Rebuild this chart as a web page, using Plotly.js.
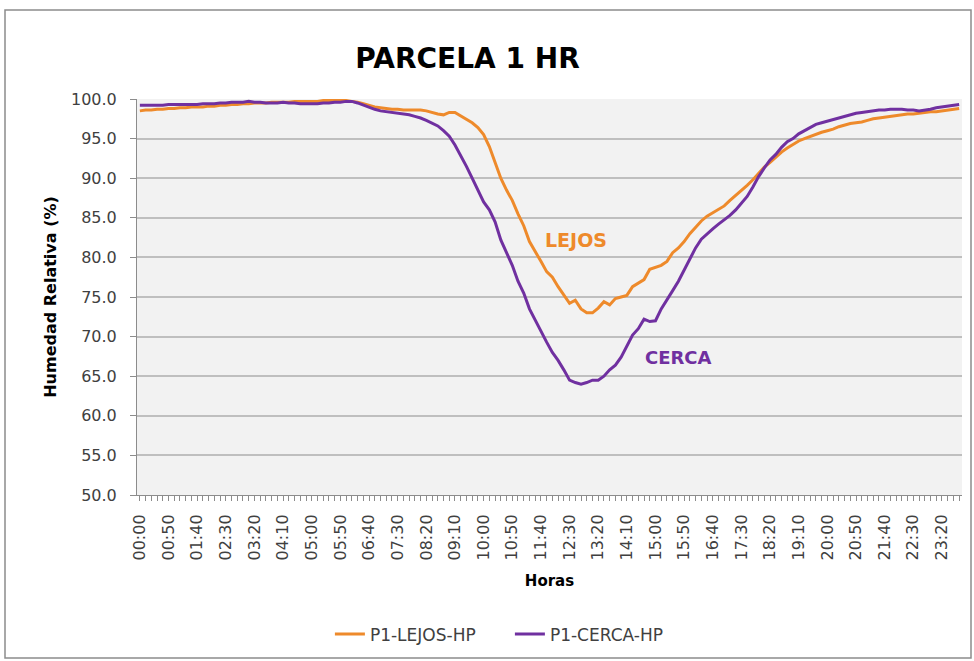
<!DOCTYPE html>
<html>
<head>
<meta charset="utf-8">
<script src="https://cdn.plot.ly/plotly-3.0.1.min.js"></script>
<style>
html,body{margin:0;padding:0;background:#fff;}
#chart{width:974px;height:661px;}
</style>
</head>
<body>
<div id="chart"></div>
<script>
// 10-minute time categories 00:00 .. 23:50
const horas = [];
for (let h = 0; h < 24; h++) {
  for (let m = 0; m < 60; m += 10) {
    horas.push(String(h).padStart(2, '0') + ':' + String(m).padStart(2, '0'));
  }
}

const lejos = [
  98.5, 98.6, 98.6, 98.7, 98.7, 98.8, 98.8, 98.9, 98.9, 99.0,
  99.0, 99.0, 99.1, 99.1, 99.2, 99.2, 99.3, 99.3, 99.4, 99.4,
  99.5, 99.5, 99.5, 99.6, 99.6, 99.6, 99.6, 99.7, 99.7, 99.7,
  99.7, 99.7, 99.8, 99.8, 99.8, 99.8, 99.8, 99.7, 99.6, 99.4,
  99.2, 99.0, 98.9, 98.8, 98.7, 98.7, 98.6, 98.6, 98.6, 98.6,
  98.5, 98.3, 98.1, 98.0, 98.3, 98.3, 97.9, 97.5, 97.0, 96.4,
  95.5, 94.0, 92.0, 90.0, 88.5, 87.2, 85.5, 84.0, 82.0, 80.8,
  79.5, 78.2, 77.5, 76.3, 75.2, 74.2, 74.6, 73.5, 73.0, 73.0,
  73.6, 74.4, 74.0, 74.8, 75.0, 75.2, 76.3, 76.8, 77.2, 78.5,
  78.8, 79.0, 79.5, 80.6, 81.2, 82.0, 83.0, 83.8, 84.6, 85.2,
  85.6, 86.0, 86.5, 87.2, 87.8, 88.4, 89.1, 89.8, 90.6, 91.4,
  92.0, 92.7, 93.3, 93.8, 94.3, 94.7, 95.0, 95.3, 95.6, 95.8,
  96.0, 96.2, 96.5, 96.7, 96.9, 97.0, 97.1, 97.3, 97.5, 97.6,
  97.7, 97.8, 97.9, 98.0, 98.1, 98.1, 98.2, 98.3, 98.4, 98.4,
  98.5, 98.6, 98.7, 98.8
];

const cerca = [
  99.2, 99.2, 99.2, 99.2, 99.2, 99.3, 99.3, 99.3, 99.3, 99.3,
  99.3, 99.4, 99.4, 99.4, 99.5, 99.5, 99.6, 99.6, 99.6, 99.7,
  99.6, 99.6, 99.5, 99.5, 99.5, 99.6, 99.5, 99.5, 99.4, 99.4,
  99.4, 99.4, 99.5, 99.5, 99.6, 99.6, 99.7, 99.7, 99.5, 99.2,
  99.0, 98.7, 98.5, 98.4, 98.3, 98.2, 98.1, 98.0, 97.8, 97.6,
  97.3, 97.0, 96.6, 96.0, 95.3, 94.2, 92.9, 91.5, 90.0, 88.5,
  87.0, 86.0, 84.5, 82.2, 80.5, 79.0, 77.0, 75.5, 73.5, 72.1,
  70.5, 69.3, 68.0, 67.0, 65.8, 64.5, 64.2, 64.0, 64.2, 64.5,
  64.5, 65.0, 65.8, 66.4, 67.4, 68.8, 70.2, 71.0, 72.2, 71.9,
  72.0, 73.5, 74.6, 75.8, 77.0, 78.4, 80.0, 81.2, 82.3, 83.0,
  83.6, 84.2, 84.7, 85.3, 86.0, 86.8, 87.7, 88.9, 90.2, 91.3,
  92.3, 93.0, 93.9, 94.6, 95.0, 95.6, 96.0, 96.4, 96.8, 97.0,
  97.2, 97.4, 97.6, 97.8, 98.0, 98.2, 98.3, 98.4, 98.5, 98.6,
  98.6, 98.7, 98.7, 98.7, 98.6, 98.6, 98.5, 98.6, 98.7, 98.9,
  99.0, 99.1, 99.2, 99.3
];

const yTicks = [50, 55, 60, 65, 70, 75, 80, 85, 90, 95, 100];
const nombreLejos = 'P1-LEJOS-HP';
const nombreCerca = 'P1-CERCA-HP';
const etiquetaLejos = 'LEJOS';
const etiquetaCerca = 'CERCA';

const ORANGE = '#EE8A2B';
const PURPLE = '#7030A0';
const FONT = 'DejaVu Sans, sans-serif';

// tick labels every 5th category, tick marks on every category
const tickText = horas.map((h, i) => (i % 5 === 0 ? h : ''));

const traces = [
  { x: horas, y: lejos, type: 'scatter', mode: 'lines', name: nombreLejos,
    line: { color: ORANGE, width: 3 } },
  { x: horas, y: cerca, type: 'scatter', mode: 'lines', name: nombreCerca,
    line: { color: PURPLE, width: 3 } }
];

const layout = {
  width: 974, height: 661,
  margin: { l: 137, r: 12, t: 99, b: 166, autoexpand: false },
  paper_bgcolor: '#ffffff',
  plot_bgcolor: '#f2f2f2',
  font: { family: FONT, color: '#404040' },
  showlegend: true,
  title: {
    text: 'PARCELA 1 HR',
    font: { family: FONT, size: 28, color: '#000000', weight: 'bold' },
    x: 0.48, xanchor: 'center', y: 0.912, yanchor: 'middle'
  },
  xaxis: {
    type: 'category',
    categoryorder: 'array', categoryarray: horas,
    range: [-0.5, horas.length - 0.5],
    tickmode: 'array', tickvals: horas, ticktext: tickText,
    tickangle: -90,
    ticks: 'outside', ticklen: 5, tickcolor: '#8c8c8c', tickwidth: 1,
    ticklabelstandoff: 7,
    tickfont: { family: FONT, size: 16, color: '#404040' },
    showline: true, linecolor: '#8c8c8c', linewidth: 1,
    showgrid: false, zeroline: false, automargin: false,
    title: { text: 'Horas', font: { family: FONT, size: 15, color: '#000', weight: 'bold' }, standoff: 15 }
  },
  yaxis: {
    range: [50, 100],
    tickmode: 'array', tickvals: yTicks,
    tickformat: '.1f',
    ticks: 'outside', ticklen: 6, tickcolor: '#8c8c8c',
    ticklabelstandoff: 10,
    tickfont: { family: FONT, size: 16, color: '#404040' },
    showline: true, linecolor: '#8c8c8c', linewidth: 1,
    showgrid: true, gridcolor: '#bfbfbf', gridwidth: 1.5,
    zeroline: false, automargin: false,
    title: { text: 'Humedad Relativa (%)', font: { family: FONT, size: 16, color: '#000', weight: 'bold' }, standoff: 10 }
  },
  legend: {
    orientation: 'h', x: 0.452, xanchor: 'center', y: -0.352, yanchor: 'middle',
    font: { family: FONT, size: 17, color: '#404040' },
    bgcolor: 'rgba(0,0,0,0)', entrywidth: 135, entrywidthmode: 'pixels', tracegroupgap: 0
  },
  annotations: [
    { xref: 'paper', yref: 'paper', x: 0.532, y: 0.645, text: '<b>' + etiquetaLejos + '</b>',
      showarrow: false, font: { family: FONT, size: 19, color: ORANGE } },
    { xref: 'paper', yref: 'paper', x: 0.656, y: 0.346, text: '<b>' + etiquetaCerca + '</b>',
      showarrow: false, font: { family: FONT, size: 18, color: PURPLE } }
  ],
  shapes: [
    { type: 'rect', xref: 'paper', yref: 'paper',
      x0: (5 - 137) / 825, x1: (971 - 137) / 825,
      y0: (495 - 658) / 396, y1: 1 + (99 - 10) / 396,
      line: { color: '#8c8c8c', width: 1.5 }, fillcolor: 'rgba(0,0,0,0)', layer: 'below' }
  ]
};

Plotly.newPlot('chart', traces, layout, { displayModeBar: false, responsive: false });
</script>
</body>
</html>
